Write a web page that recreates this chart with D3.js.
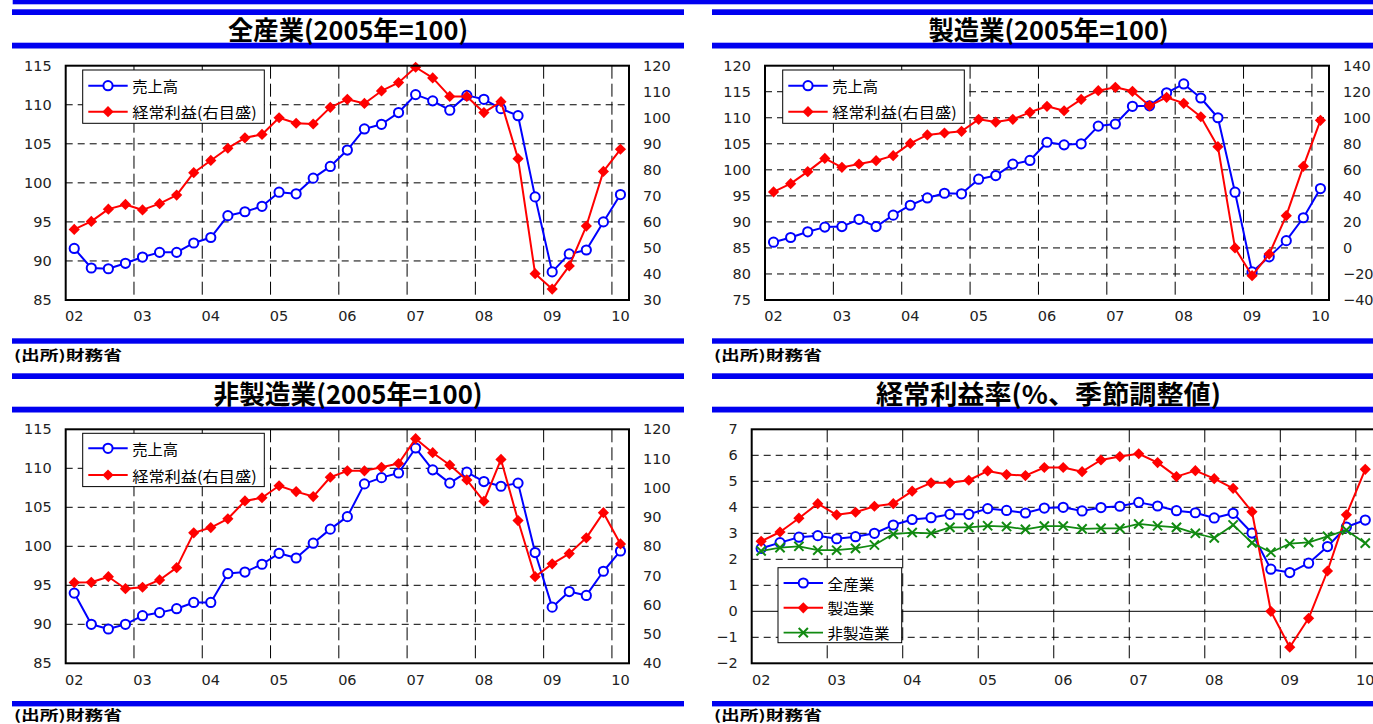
<!DOCTYPE html>
<html>
<head>
<meta charset="utf-8">
<script src="https://cdn.jsdelivr.net/npm/d3@7"></script>
<style>
  html, body { margin: 0; padding: 0; background: #fff; }
  svg { display: block; }
  .tick text { font-family: "DejaVu Sans", Verdana, sans-serif; font-size: 14.5px; fill: #222; }
  .jp { font-family: "Noto Sans CJK JP", sans-serif; }
</style>
</head>
<body>
<svg id="chart" width="1373" height="724"></svg>
<script>
// Quarterly categories, 2002 Q1 – 2010 Q1
const quarters = [
  "02Q1","02Q2","02Q3","02Q4","03Q1","03Q2","03Q3","03Q4",
  "04Q1","04Q2","04Q3","04Q4","05Q1","05Q2","05Q3","05Q4",
  "06Q1","06Q2","06Q3","06Q4","07Q1","07Q2","07Q3","07Q4",
  "08Q1","08Q2","08Q3","08Q4","09Q1","09Q2","09Q3","09Q4","10Q1"
];
const yearLabels = ["02","03","04","05","06","07","08","09","10"];

// 全産業 (2005年=100)
const salesAll = [91.6, 89.1, 89.0, 89.7, 90.5, 91.1, 91.1, 92.3, 93.0, 95.8, 96.3, 97.0, 98.8, 98.6, 100.6, 102.1,
  104.2, 106.9, 107.5, 109.0, 111.3, 110.5, 109.3, 111.2, 110.7, 109.5, 108.6, 98.2, 88.6, 90.9, 91.4, 95.0, 98.5];
const profitAll = [57.1, 60.2, 64.9, 66.7, 64.6, 67.0, 70.3, 78.9, 83.6, 88.3, 92.3, 93.6, 100.0, 97.9, 97.6, 104.0,
  107.1, 105.5, 110.3, 113.5, 119.4, 115.3, 108.2, 108.2, 102.0, 106.2, 84.3, 40.1, 34.2, 43.1, 58.4, 79.4, 87.9];

// 製造業 (2005年=100)
const salesMfg = [86.1, 87.0, 88.1, 89.0, 89.1, 90.5, 89.1, 91.3, 93.2, 94.6, 95.5, 95.4, 98.2, 98.9, 101.1, 101.8,
  105.3, 104.8, 105.0, 108.4, 108.8, 112.2, 112.3, 114.8, 116.5, 113.8, 110.0, 95.7, 80.4, 83.3, 86.4, 90.8, 96.4];
const profitMfg = [43.0, 49.4, 58.6, 68.8, 61.9, 64.5, 67.0, 70.9, 80.3, 86.8, 88.3, 89.6, 98.8, 96.7, 98.8, 104.2,
  108.8, 105.4, 114.1, 120.8, 123.4, 120.3, 109.3, 115.7, 111.1, 100.8, 77.8, 0.0, -21.3, -4.7, 24.8, 62.7, 98.0];

// 非製造業 (2005年=100)
const salesNonMfg = [94.0, 90.0, 89.4, 90.0, 91.1, 91.5, 92.0, 92.8, 92.8, 96.5, 96.7, 97.7, 99.1, 98.5, 100.4, 102.2,
  103.8, 108.0, 108.8, 109.4, 112.6, 109.8, 108.1, 109.5, 108.3, 107.7, 108.1, 99.2, 92.2, 94.2, 93.7, 96.8, 99.4];
const profitNonMfg = [67.6, 67.7, 69.6, 65.5, 66.0, 68.5, 72.7, 84.6, 86.4, 89.4, 95.5, 96.6, 100.7, 98.7, 97.0, 103.6,
  105.8, 105.8, 107.0, 108.3, 116.8, 112.0, 107.8, 102.7, 95.4, 109.7, 88.8, 69.6, 74.0, 77.5, 82.9, 91.5, 80.8];

// 経常利益率 (%、季節調整値)
const marginAll = [2.42, 2.64, 2.85, 2.91, 2.79, 2.87, 3.00, 3.32, 3.53, 3.60, 3.73, 3.73, 3.95, 3.88, 3.78, 3.97,
  4.00, 3.86, 3.99, 4.04, 4.19, 4.05, 3.87, 3.79, 3.59, 3.77, 3.01, 1.62, 1.49, 1.85, 2.49, 3.24, 3.51];
const marginMfg = [2.69, 3.05, 3.58, 4.14, 3.71, 3.81, 4.04, 4.14, 4.62, 4.94, 4.94, 5.04, 5.40, 5.26, 5.22, 5.53,
  5.53, 5.37, 5.82, 5.95, 6.06, 5.72, 5.18, 5.41, 5.10, 4.73, 3.83, 0.00, -1.38, -0.27, 1.55, 3.71, 5.46];
const marginNonMfg = [2.32, 2.45, 2.50, 2.35, 2.35, 2.42, 2.55, 2.97, 3.03, 3.00, 3.23, 3.23, 3.29, 3.26, 3.15, 3.28,
  3.28, 3.17, 3.19, 3.19, 3.36, 3.29, 3.23, 3.00, 2.82, 3.32, 2.63, 2.27, 2.60, 2.65, 2.88, 3.12, 2.62];

// Axis tick values
const ticksAll = [85, 90, 95, 100, 105, 110, 115];
const ticksAllR = [30, 40, 50, 60, 70, 80, 90, 100, 110, 120];
const ticksMfg = [75, 80, 85, 90, 95, 100, 105, 110, 115, 120];
const ticksMfgR = [-40, -20, 0, 20, 40, 60, 80, 100, 120, 140];
const ticksNonMfgR = [40, 50, 60, 70, 80, 90, 100, 110, 120];
const ticksMargin = [-2, -1, 0, 1, 2, 3, 4, 5, 6, 7];

const BLUE = "#0000ff", RED = "#ff0000", GREEN = "#118a11", BAR = "#0000f0";

const svg = d3.select("#chart");

// ---------- page furniture: blue rules, titles, source notes ----------
svg.append("rect").attr("x", 12.7).attr("y", 0).attr("width", 1373 - 12.7).attr("height", 4.3).attr("fill", BAR);

function header(x0, x1, top, title, titleLen) {
  svg.append("rect").attr("x", x0).attr("y", top).attr("width", x1 - x0).attr("height", 5.7).attr("fill", BAR);
  svg.append("rect").attr("x", x0).attr("y", top + 33.4).attr("width", x1 - x0).attr("height", 5.8).attr("fill", BAR);
  svg.append("text").attr("class", "jp")
    .attr("x", (x0 + x1) / 2).attr("y", top + 19.5)
    .attr("text-anchor", "middle").attr("dominant-baseline", "central")
    .attr("font-size", 26).attr("font-weight", "bold").attr("fill", "#000")
    .attr("textLength", titleLen).attr("lengthAdjust", "spacingAndGlyphs")
    .text(title);
}
function footer(x0, x1, top, textOffset) {
  svg.append("rect").attr("x", x0).attr("y", top).attr("width", x1 - x0).attr("height", 5.4).attr("fill", BAR);
  svg.append("text").attr("class", "jp")
    .attr("x", x0 + 2).attr("y", top + textOffset)
    .attr("dominant-baseline", "central")
    .attr("font-size", 13.5).attr("font-weight", "bold").attr("fill", "#000")
    .attr("textLength", 108).attr("lengthAdjust", "spacingAndGlyphs")
    .text("(出所)財務省");
}

header(12, 684, 9.3, "全産業(2005年=100)", 240);
header(712, 1385, 9.3, "製造業(2005年=100)", 240);
header(12, 684, 373.3, "非製造業(2005年=100)", 269);
header(712, 1385, 373.3, "経常利益率(%、季節調整値)", 345);
footer(12, 684, 338.3, 15.5);
footer(712, 1385, 338.3, 15.5);
footer(12, 684, 701, 13.2);
footer(712, 1385, 701, 13.2);

// ---------- markers ----------
function drawMarker(g, type, color, cx, cy) {
  if (type === "circle") {
    g.append("circle").attr("cx", cx).attr("cy", cy).attr("r", 4.6)
      .attr("fill", "#fff").attr("stroke", color).attr("stroke-width", 2);
  } else if (type === "diamond") {
    const s = 5.6;
    g.append("path").attr("d", `M${cx},${cy - s}L${cx + s},${cy}L${cx},${cy + s}L${cx - s},${cy}Z`)
      .attr("fill", color);
  } else if (type === "cross") {
    const s = 4.6;
    g.append("path").attr("d", `M${cx - s},${cy - s}L${cx + s},${cy + s}M${cx - s},${cy + s}L${cx + s},${cy - s}`)
      .attr("stroke", color).attr("stroke-width", 2).attr("fill", "none");
  }
}

// ---------- one chart panel ----------
function panel(cfg) {
  const g = svg.append("g");
  const x = d3.scaleBand().domain(quarters).range([cfg.x0, cfg.x1]).padding(0);
  const yL = d3.scaleLinear().domain(d3.extent(cfg.leftTicks)).range([cfg.y1, cfg.y0]);
  const yR = cfg.rightTicks ? d3.scaleLinear().domain(d3.extent(cfg.rightTicks)).range([cfg.y1, cfg.y0]) : null;

  // horizontal grid
  g.append("g").selectAll("line")
    .data(cfg.leftTicks.filter((v, i) => i > 0 && i < cfg.leftTicks.length - 1))
    .join("line")
    .attr("x1", cfg.x0).attr("x2", cfg.x1)
    .attr("y1", d => yL(d)).attr("y2", d => yL(d))
    .attr("stroke", "#000").attr("stroke-width", 1)
    .attr("stroke-dasharray", d => (cfg.solidZero && d === 0) ? null : "7,5");

  // vertical grid at each year boundary
  const yearStarts = quarters.filter((q, i) => i % 4 === 0 && i > 0);
  g.append("g").selectAll("line")
    .data(yearStarts)
    .join("line")
    .attr("x1", d => x(d)).attr("x2", d => x(d))
    .attr("y1", cfg.y0).attr("y2", cfg.y1)
    .attr("stroke", "#000").attr("stroke-width", 1)
    .attr("stroke-dasharray", "13,5");

  // axes (labels only)
  const axL = g.append("g").attr("transform", `translate(${cfg.x0},0)`)
    .call(d3.axisLeft(yL).tickValues(cfg.leftTicks).tickSize(0).tickPadding(14).tickFormat(d3.format("d")));
  axL.select(".domain").remove();
  if (yR) {
    const axR = g.append("g").attr("transform", `translate(${cfg.x1},0)`)
      .call(d3.axisRight(yR).tickValues(cfg.rightTicks).tickSize(0).tickPadding(14).tickFormat(d3.format("d")));
    axR.select(".domain").remove();
  }
  const labelQuarters = quarters.filter((q, i) => i % 4 === 0);
  const axB = g.append("g").attr("transform", `translate(0,${cfg.y1})`)
    .call(d3.axisBottom(x).tickValues(labelQuarters).tickSize(0).tickPadding(11)
      .tickFormat(q => yearLabels[quarters.indexOf(q) / 4]));
  axB.select(".domain").remove();

  // series
  cfg.series.forEach(s => {
    const yS = s.axis === "right" ? yR : yL;
    const line = d3.line().x((d, i) => x(quarters[i]) + x.bandwidth() / 2).y(d => yS(d));
    g.append("path").attr("d", line(s.values)).attr("fill", "none")
      .attr("stroke", s.color).attr("stroke-width", s.width || 2).attr("stroke-linejoin", "round");
    const mg = g.append("g");
    s.values.forEach((v, i) => drawMarker(mg, s.marker, s.color, x(quarters[i]) + x.bandwidth() / 2, yS(v)));
  });

  // plot frame
  g.append("rect").attr("x", cfg.x0).attr("y", cfg.y0)
    .attr("width", cfg.x1 - cfg.x0).attr("height", cfg.y1 - cfg.y0)
    .attr("fill", "none").attr("stroke", "#000").attr("stroke-width", 2);

  // legend
  const L = cfg.legend;
  const lg = g.append("g");
  lg.append("rect").attr("x", L.x).attr("y", L.y).attr("width", L.w).attr("height", L.h)
    .attr("fill", "#fff").attr("stroke", "#000").attr("stroke-width", 1);
  L.items.forEach((it, i) => {
    const s = cfg.series[it.series];
    const cy = L.y + L.first + i * L.step;
    lg.append("line").attr("x1", L.x + 5.6).attr("x2", L.x + 45).attr("y1", cy).attr("y2", cy)
      .attr("stroke", s.color).attr("stroke-width", s.width || 2);
    drawMarker(lg, s.marker, s.color, L.x + 25.3, cy);
    lg.append("text").attr("class", "jp").attr("x", L.x + 49.5).attr("y", cy)
      .attr("dominant-baseline", "central").attr("font-size", 15).attr("fill", "#000")
      .attr("textLength", it.len).attr("lengthAdjust", "spacingAndGlyphs")
      .text(it.label);
  });
}

const twoLegend = (x) => ({
  x: x, y: 70, w: 181.6, h: 53.3, first: 15.7, step: 26,
  items: [{ series: 0, label: "売上高", len: 46 }, { series: 1, label: "経常利益(右目盛)", len: 124.5 }]
});

panel({
  x0: 65.7, x1: 629, y0: 65.7, y1: 300,
  leftTicks: ticksAll, rightTicks: ticksAllR,
  series: [
    { values: salesAll, axis: "left", color: BLUE, marker: "circle" },
    { values: profitAll, axis: "right", color: RED, marker: "diamond" }
  ],
  legend: twoLegend(82.7)
});

panel({
  x0: 765, x1: 1329, y0: 65.7, y1: 300,
  leftTicks: ticksMfg, rightTicks: ticksMfgR,
  series: [
    { values: salesMfg, axis: "left", color: BLUE, marker: "circle" },
    { values: profitMfg, axis: "right", color: RED, marker: "diamond" }
  ],
  legend: twoLegend(782.7)
});

const lowLegend = twoLegend(82.7);
lowLegend.y = 433.3;
lowLegend.first = 15;
lowLegend.step = 26.7;
panel({
  x0: 65.7, x1: 629, y0: 429.3, y1: 663.3,
  leftTicks: ticksAll, rightTicks: ticksNonMfgR,
  series: [
    { values: salesNonMfg, axis: "left", color: BLUE, marker: "circle" },
    { values: profitNonMfg, axis: "right", color: RED, marker: "diamond" }
  ],
  legend: lowLegend
});

panel({
  x0: 751.7, x1: 1374.7, y0: 429.3, y1: 663.3,
  leftTicks: ticksMargin, rightTicks: null, solidZero: true,
  series: [
    { values: marginAll, axis: "left", color: BLUE, marker: "circle" },
    { values: marginMfg, axis: "left", color: RED, marker: "diamond" },
    { values: marginNonMfg, axis: "left", color: GREEN, marker: "cross", width: 1.75 }
  ],
  legend: {
    x: 778, y: 567.7, w: 123.7, h: 75, first: 15.3, step: 24.8,
    items: [
      { series: 0, label: "全産業", len: 47 },
      { series: 1, label: "製造業", len: 47 },
      { series: 2, label: "非製造業", len: 62 }
    ]
  }
});
</script>
</body>
</html>
